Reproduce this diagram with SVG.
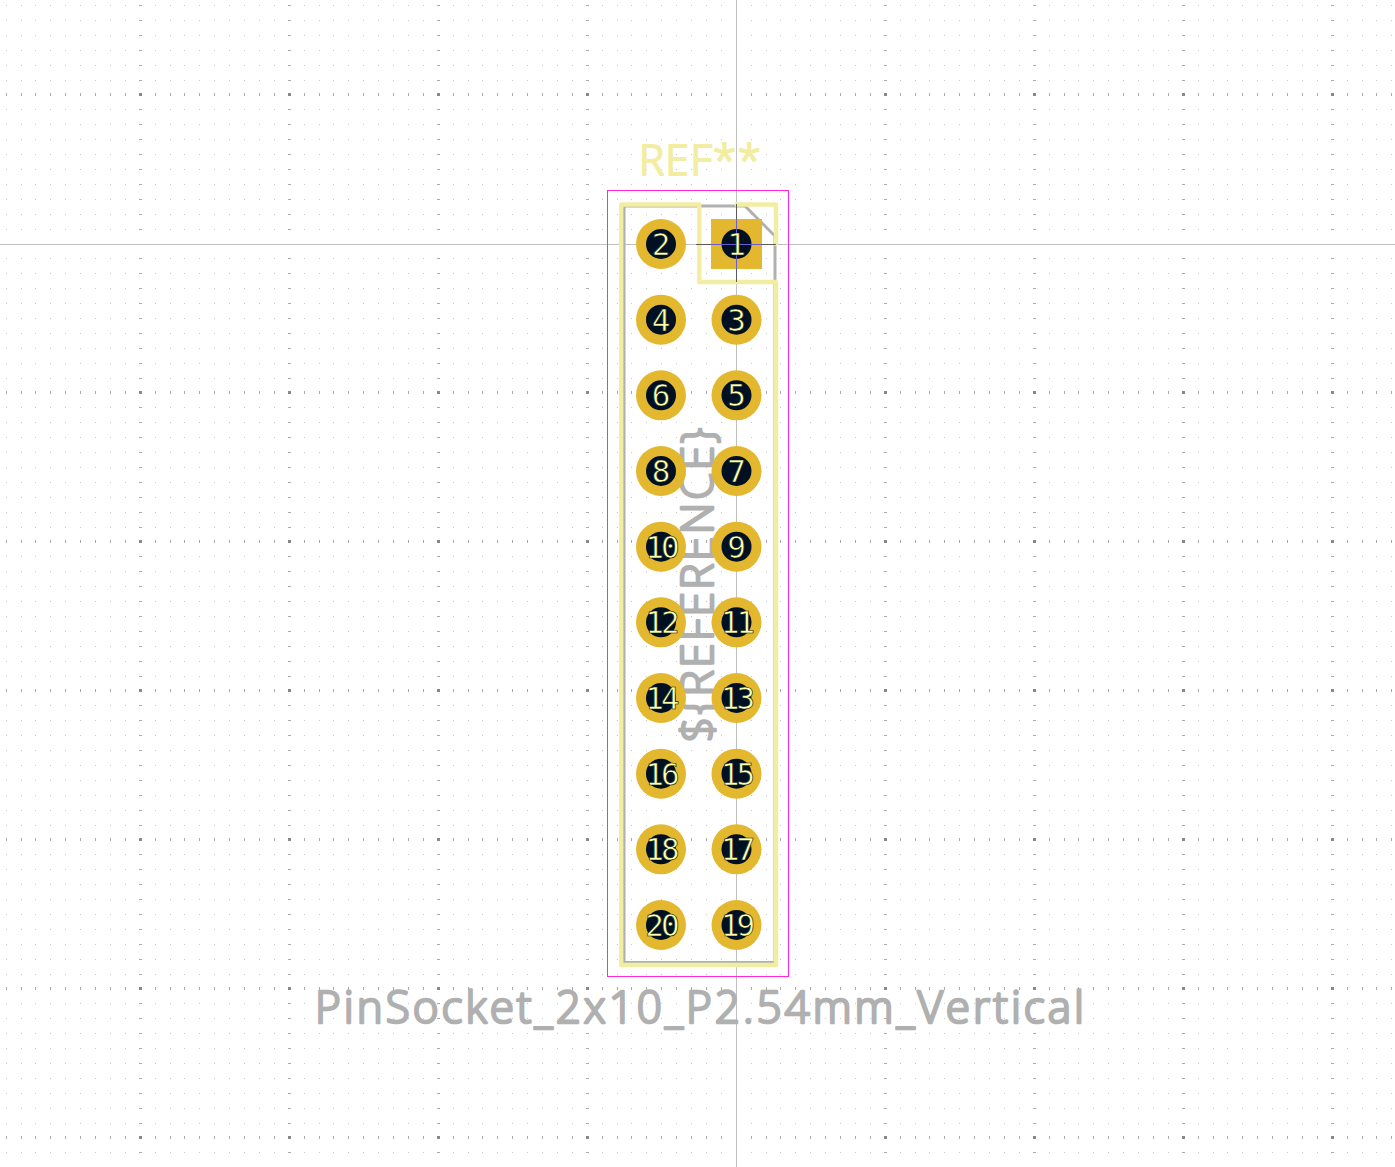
<svg xmlns="http://www.w3.org/2000/svg" width="1395" height="1167" viewBox="0 0 1395 1167">
<style>
.pad{fill:#e3b72e}
.hole{fill:#001023}
.num{font-family:"DejaVu Sans Mono",monospace;fill:#ffffa8;stroke:#001023;stroke-width:.6;text-anchor:middle;font-size:31px}
.num2{letter-spacing:-3px}
.fab{fill:none;stroke:#b0b0b0;stroke-width:3}
.silk{fill:none;stroke:#f2eda1;stroke-width:4.4;stroke-linecap:round;stroke-linejoin:round}
.lbl{font-family:"Open Sans",sans-serif;font-weight:300;font-size:44px;fill:#b0b0b0;stroke:#b0b0b0;stroke-width:2.6;stroke-linejoin:round;stroke-linecap:round}
.ref{font-family:"Open Sans",sans-serif;font-weight:300;font-size:42px;fill:#f2eda1;stroke:#f2eda1;stroke-width:2.2;stroke-linejoin:round}
</style>
<defs>
<pattern id="grid" patternUnits="userSpaceOnUse" x="139" y="93" width="149" height="149">
<path d="M16 16.5H149M16 31.5H149M16 46.5H149M16 61.5H149M16 76.5H149M16 91.5H149M16 106.5H149M16 121.5H149M16 136.5H149" fill="none" stroke="#c8c8c8" stroke-dasharray="1 14 1 13 1 14 1 14 1 14 1 14 1 14 1 14 1 20"/>
<path d="M0 16.5H3M0 31.5H3M0 46.5H3M0 61.5H3M0 76.5H3M0 91.5H3M0 106.5H3M0 121.5H3M0 136.5H3" fill="none" stroke="#aaa"/>
<path d="M16.5 0V3M31.5 0V3M45.5 0V3M60.5 0V3M75.5 0V3M90.5 0V3M105.5 0V3M120.5 0V3M135.5 0V3" fill="none" stroke="#aaa"/>
<rect width="3" height="3" fill="#888"/>
</pattern>
</defs>
<rect width="1395" height="1167" fill="#fff"/>
<rect id="grid-dots" width="1395" height="1167" fill="url(#grid)"/>
<path d="M0 243.5H1395M736.5 0V1167" stroke="#fff" stroke-width="4"/>
<g id="crosshair" stroke="#c0c0c0">
<path d="M0 244.5H1395M736.5 0V1167"/>
</g>
<g id="courtyard"><rect x="607.5" y="190.5" width="181" height="786" fill="none" stroke="#ff26e2"/></g>
<g id="fabrication"><path class="fab" d="M624 206H745L775 236V962.5H624Z"/></g>
<g id="silkscreen">
<path class="silk" d="M699.3 204.5H621.2V965H776V282H699.3Z"/>
<path class="silk" d="M736.5 204.5H776V244"/>
</g>
<text id="ref" class="ref" x="639" y="175" textLength="122" lengthAdjust="spacing">REF**</text>
<text id="reference-field" class="lbl" transform="translate(713 742) rotate(-90)" x="0" y="0" textLength="314" lengthAdjust="spacing">${REFERENCE}</text>
<text id="value-field" class="lbl" x="315" y="1023" textLength="769" lengthAdjust="spacing">PinSocket_2x10_P2.54mm_Vertical</text>
<g id="pad-1"><rect class="pad" x="711" y="219" width="51" height="50"/><circle class="hole" cx="736.5" cy="244" r="15"/>
<path d="M696 244.5H776M736.5 204V282" stroke="#5a5a5a" fill="none"/><path d="M711 244.5H762M736.5 219V269" stroke="#6a5acd" fill="none"/>
<text class="num" x="736.5" y="255">1</text></g>
<g id="pad-2"><circle class="pad" cx="661" cy="244" r="25"/><circle class="hole" cx="661" cy="244" r="15"/><text class="num" x="661" y="255">2</text></g>
<g id="pad-3"><circle class="pad" cx="736.5" cy="319.7" r="25"/><circle class="hole" cx="736.5" cy="319.7" r="15"/><text class="num" x="736.5" y="330.7">3</text></g>
<g id="pad-4"><circle class="pad" cx="661" cy="319.7" r="25"/><circle class="hole" cx="661" cy="319.7" r="15"/><text class="num" x="661" y="330.7">4</text></g>
<g id="pad-5"><circle class="pad" cx="736.5" cy="395.3" r="25"/><circle class="hole" cx="736.5" cy="395.3" r="15"/><text class="num" x="736.5" y="406.3">5</text></g>
<g id="pad-6"><circle class="pad" cx="661" cy="395.3" r="25"/><circle class="hole" cx="661" cy="395.3" r="15"/><text class="num" x="661" y="406.3">6</text></g>
<g id="pad-7"><circle class="pad" cx="736.5" cy="471" r="25"/><circle class="hole" cx="736.5" cy="471" r="15"/><text class="num" x="736.5" y="482">7</text></g>
<g id="pad-8"><circle class="pad" cx="661" cy="471" r="25"/><circle class="hole" cx="661" cy="471" r="15"/><text class="num" x="661" y="482">8</text></g>
<g id="pad-9"><circle class="pad" cx="736.5" cy="546.7" r="25"/><circle class="hole" cx="736.5" cy="546.7" r="15"/><text class="num" x="736.5" y="557.7">9</text></g>
<g id="pad-10"><circle class="pad" cx="661" cy="546.7" r="25"/><circle class="hole" cx="661" cy="546.7" r="15"/><text class="num num2" x="661" y="557.7">10</text></g>
<g id="pad-11"><circle class="pad" cx="736.5" cy="622.3" r="25"/><circle class="hole" cx="736.5" cy="622.3" r="15"/><text class="num num2" x="736.5" y="633.3">11</text></g>
<g id="pad-12"><circle class="pad" cx="661" cy="622.3" r="25"/><circle class="hole" cx="661" cy="622.3" r="15"/><text class="num num2" x="661" y="633.3">12</text></g>
<g id="pad-13"><circle class="pad" cx="736.5" cy="698" r="25"/><circle class="hole" cx="736.5" cy="698" r="15"/><text class="num num2" x="736.5" y="709">13</text></g>
<g id="pad-14"><circle class="pad" cx="661" cy="698" r="25"/><circle class="hole" cx="661" cy="698" r="15"/><text class="num num2" x="661" y="709">14</text></g>
<g id="pad-15"><circle class="pad" cx="736.5" cy="773.7" r="25"/><circle class="hole" cx="736.5" cy="773.7" r="15"/><text class="num num2" x="736.5" y="784.7">15</text></g>
<g id="pad-16"><circle class="pad" cx="661" cy="773.7" r="25"/><circle class="hole" cx="661" cy="773.7" r="15"/><text class="num num2" x="661" y="784.7">16</text></g>
<g id="pad-17"><circle class="pad" cx="736.5" cy="849.3" r="25"/><circle class="hole" cx="736.5" cy="849.3" r="15"/><text class="num num2" x="736.5" y="860.3">17</text></g>
<g id="pad-18"><circle class="pad" cx="661" cy="849.3" r="25"/><circle class="hole" cx="661" cy="849.3" r="15"/><text class="num num2" x="661" y="860.3">18</text></g>
<g id="pad-19"><circle class="pad" cx="736.5" cy="925" r="25"/><circle class="hole" cx="736.5" cy="925" r="15"/><text class="num num2" x="736.5" y="936">19</text></g>
<g id="pad-20"><circle class="pad" cx="661" cy="925" r="25"/><circle class="hole" cx="661" cy="925" r="15"/><text class="num num2" x="661" y="936">20</text></g>
</svg>
